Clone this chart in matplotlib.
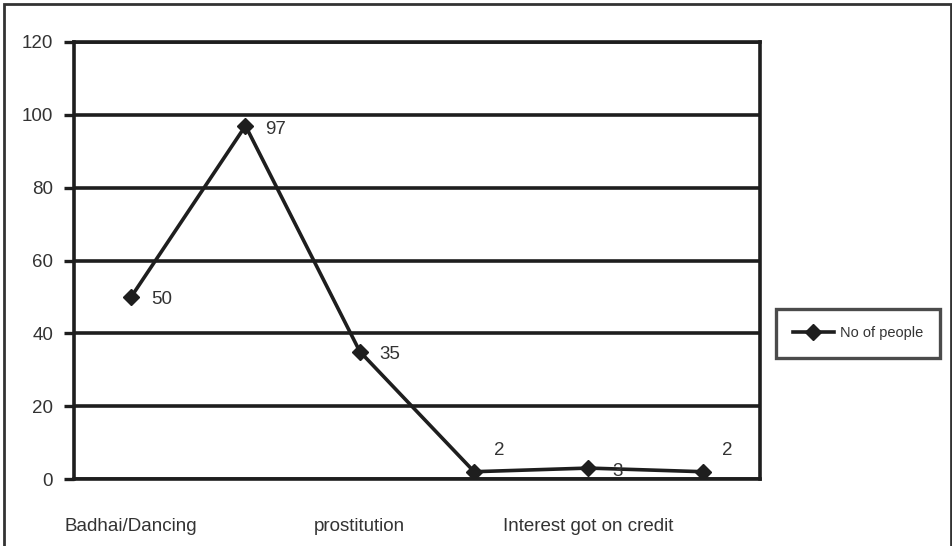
import matplotlib.pyplot as plt
from matplotlib.patches import Rectangle
from matplotlib import font_manager

names = {f.name for f in font_manager.fontManager.ttflist}
fam = ['Liberation Sans Narrow', 'Liberation Sans', 'DejaVu Sans'] if 'Liberation Sans Narrow' in names else ['Liberation Sans', 'DejaVu Sans']
plt.rcParams['font.family'] = fam

positions = [1, 2, 3, 4, 5, 6]
values = [50, 97, 35, 2, 3, 2]
tick_labels = ['Badhai/Dancing', '', 'prostitution', '', 'Interest got on credit', '']
series_name = 'No of people'
# label offsets in pixels (dx, dy)
label_offsets = [(20, -3), (20, -4), (20, -3), (25, 21), (24, -3), (24, 21)]

ink = '#1e1e1e'
fig = plt.figure(figsize=(9.53, 5.46), dpi=100)
ax = fig.add_axes([74/953, 67/546, 686/953, 437/546])

ax.plot(positions, values, color=ink, lw=2.6, marker='D', ms=8, mfc=ink, mec=ink, label=series_name)
for x, y, (dx, dy) in zip(positions, values, label_offsets):
    ax.annotate(str(y), (x, y), xytext=(dx, dy), textcoords='offset pixels',
                ha='center' if dy > 10 else 'left', va='center', fontsize=13.5, color='#333333')

ax.set_xlim(0.5, 6.5)
ax.set_ylim(0, 120)
ax.set_yticks(range(0, 121, 20))
ax.yaxis.grid(True, color=ink, lw=2.6)
ax.set_axisbelow(True)
ax.set_xticks(positions)
ax.set_xticklabels(tick_labels)
ax.tick_params(axis='x', length=0, pad=28, labelsize=13.5, labelcolor='#333333')
ax.tick_params(axis='y', length=7, width=2.4, color=ink, pad=8, labelsize=13.5, labelcolor='#333333')
for s in ax.spines.values():
    s.set_color(ink)
    s.set_linewidth(2.6)

leg = fig.legend(loc='center', bbox_to_anchor=(858/953, 1 - 333/546), frameon=True,
                 fancybox=False, edgecolor=ink, fontsize=10.5, handlelength=2.8,
                 borderpad=1.2, handletextpad=0.4, borderaxespad=0)
leg.get_frame().set_linewidth(2.4)
for t in leg.get_texts():
    t.set_color('#333333')

fig.add_artist(Rectangle((4/953, -0.01), 947/953, 1.01 - 4/546, transform=fig.transFigure,
                         fill=False, edgecolor='#333333', lw=2))

fig.savefig('out.png', dpi=100)
